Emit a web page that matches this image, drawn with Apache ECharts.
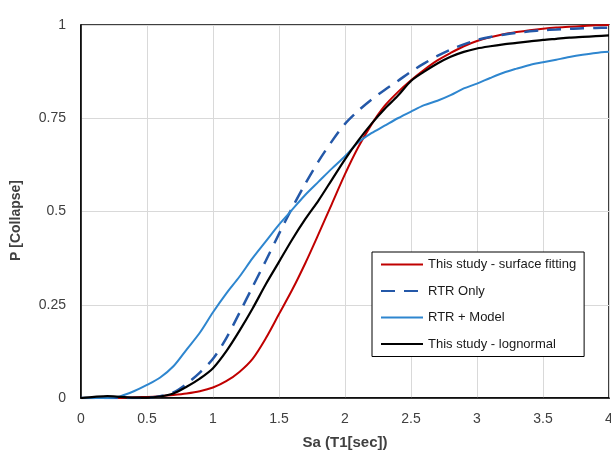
<!DOCTYPE html>
<html>
<head>
<meta charset="utf-8">
<script src="https://cdn.jsdelivr.net/npm/echarts@6/dist/echarts.min.js"></script>
<style>html,body{margin:0;padding:0;background:#fff}#c{width:611px;height:453px}</style>
</head>
<body>
<div id="c"></div>
<script>
const sa = [0,0.1,0.2,0.3,0.4,0.5,0.6,0.7,0.8,0.9,1.0,1.1,1.2,1.3,1.4,1.5,1.6,1.7,1.8,1.9,2.0,2.1,2.2,2.3,2.4,2.5,2.6,2.7,2.8,2.9,3.0,3.1,3.2,3.3,3.4,3.5,3.6,3.7,3.8,3.9,4.0];
const surfaceFitting = [0,0,0,0,0.002,0.003,0.005,0.008,0.012,0.018,0.028,0.045,0.07,0.105,0.16,0.225,0.29,0.362,0.44,0.52,0.6,0.672,0.733,0.783,0.82,0.852,0.88,0.905,0.925,0.943,0.957,0.967,0.975,0.981,0.986,0.99,0.993,0.995,0.997,0.999,1.0];
const rtrOnly = [0,0,0,0,0,0.001,0.005,0.015,0.038,0.068,0.105,0.16,0.228,0.298,0.368,0.44,0.51,0.575,0.635,0.688,0.735,0.77,0.8,0.826,0.85,0.875,0.897,0.917,0.934,0.948,0.96,0.968,0.974,0.979,0.983,0.986,0.988,0.99,0.991,0.992,0.993];
const rtrModel = [0,0,0,0.005,0.018,0.035,0.055,0.085,0.13,0.175,0.23,0.28,0.325,0.375,0.42,0.465,0.505,0.545,0.58,0.615,0.648,0.685,0.71,0.73,0.75,0.768,0.785,0.797,0.812,0.83,0.843,0.858,0.872,0.883,0.893,0.9,0.907,0.914,0.92,0.925,0.928];
const lognormal = [0,0.003,0.005,0.003,0.001,0.001,0.004,0.012,0.03,0.052,0.08,0.125,0.18,0.24,0.305,0.365,0.425,0.48,0.53,0.585,0.64,0.69,0.735,0.775,0.81,0.85,0.875,0.897,0.915,0.928,0.937,0.943,0.948,0.952,0.956,0.96,0.963,0.966,0.968,0.97,0.972];
const xTicks = ['0','0.5','1','1.5','2','2.5','3','3.5','4'];
const yTicks = ['0','0.25','0.5','0.75','1'];
const seriesNames = ['This study - surface fitting','RTR Only','RTR + Model','This study - lognormal'];

const pairs = arr => sa.map((x,i)=>[x,arr[i]]);
const fontFam = 'Liberation Sans, Arial, sans-serif';
const chart = echarts.init(document.getElementById('c'), null, {renderer:'canvas'});
function mk(name, arr, color, width, type){
  return {name, type:'line', data:pairs(arr), symbol:'none', smooth:0.3, z: 3,
    lineStyle:{color, width, type}, itemStyle:{color}};
}
chart.setOption({
  animation:false,
  backgroundColor:'#fff',
  grid:{left:81, right:2, top:25, bottom:55, show:true, borderColor:'#000', borderWidth:1.5,
    containLabel:false, outerBoundsMode:'none'},
  xAxis:{type:'value', min:0, max:4, interval:0.5,
    name:'Sa (T1[sec])', nameLocation:'middle', nameGap:37,
    nameTextStyle:{fontFamily:fontFam, fontWeight:'bold', fontSize:15, color:'#404040'},
    axisLine:{show:true, lineStyle:{color:'#000', width:1.5}},
    axisTick:{show:false},
    splitLine:{show:true, lineStyle:{color:'#d9d9d9', width:1}},
    axisLabel:{margin:14, fontFamily:fontFam, fontSize:14, color:'#404040',
      formatter:v=>xTicks[Math.round(v/0.5)]}},
  yAxis:{type:'value', min:0, max:1, interval:0.25,
    name:'P [Collapse]', nameLocation:'middle', nameGap:58,
    nameTextStyle:{fontFamily:fontFam, fontWeight:'bold', fontSize:14, color:'#404040', padding:[0,18,0,0]},
    axisLine:{show:true, lineStyle:{color:'#000', width:1.5}},
    axisTick:{show:false},
    splitLine:{show:true, lineStyle:{color:'#d9d9d9', width:1}},
    axisLabel:{margin:15, fontFamily:fontFam, fontSize:14, color:'#404040',
      formatter:v=>yTicks[Math.round(v/0.25)]}},
  legend:{orient:'vertical', left:372, top:252, data:seriesNames,
    backgroundColor:'#fff', borderColor:'#000', borderWidth:1,
    padding:[6,8,6,8], itemWidth:42, itemHeight:14, itemGap:13.5,
    selectedMode:false, itemStyle:{opacity:0},
    textStyle:{fontFamily:fontFam, fontSize:13, color:'#1a1a1a'}},
  series:[
    mk(seriesNames[0], surfaceFitting, '#C00000', 2),
    mk(seriesNames[1], rtrOnly, '#2458A8', 2.5, [14,9]),
    mk(seriesNames[2], rtrModel, '#2E86CF', 2),
    mk(seriesNames[3], lognormal, '#000000', 2.2)
  ]
});
</script>
</body>
</html>
